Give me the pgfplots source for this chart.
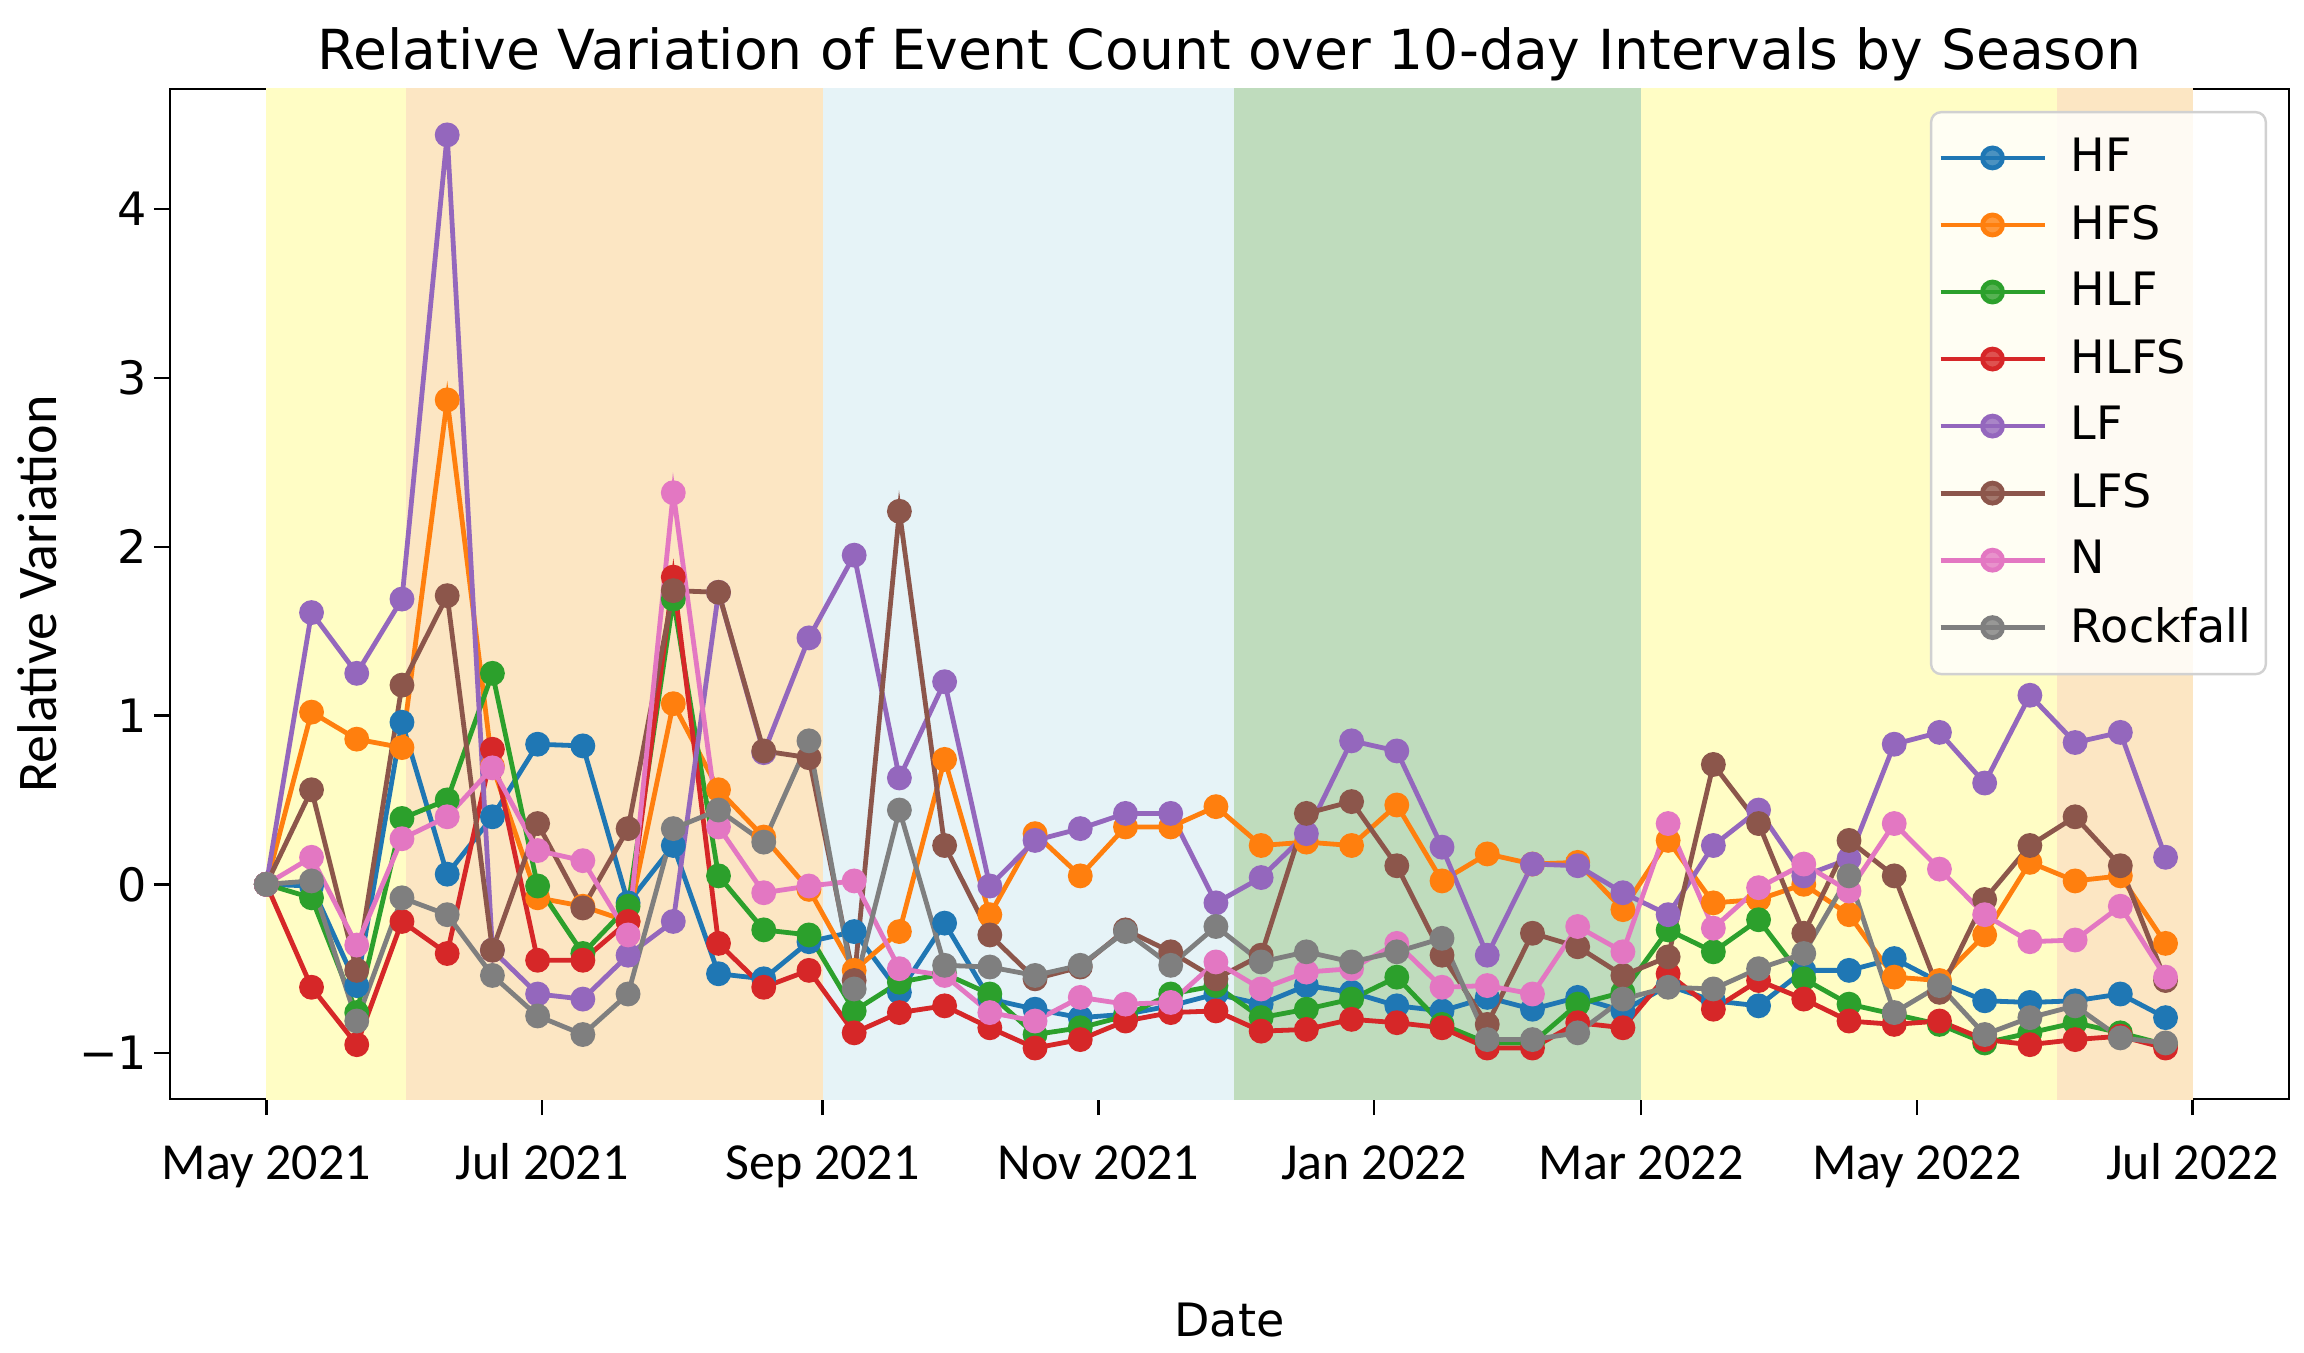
\documentclass[border=0pt]{standalone}
\usepackage{fontspec}
\setmainfont{DejaVu Sans}
\newfontfamily\carlito{Carlito}
\usepackage{pgfplots}
\usepackage{pgfplotstable}
\pgfplotsset{compat=1.18}

\definecolor{tabblue}{HTML}{1F77B4}
\definecolor{taborange}{HTML}{FF7F0E}
\definecolor{tabgreen}{HTML}{2CA02C}
\definecolor{tabred}{HTML}{D62728}
\definecolor{tabpurple}{HTML}{9467BD}
\definecolor{tabbrown}{HTML}{8C564B}
\definecolor{tabpink}{HTML}{E377C2}
\definecolor{tabgray}{HTML}{7F7F7F}
\definecolor{spring}{HTML}{FFFDC5}
\definecolor{summer}{HTML}{FCE6C3}
\definecolor{autumn}{HTML}{E6F3F7}
\definecolor{winter}{HTML}{BFDCBD}

% relative variation per 10-day interval, day 0 = 1 May 2021
\pgfplotstableread{
day   HF     HFS    HLF    HLFS   LF     LFS    N      Rock
0     0      0      0      0      0      0      0      0
10   -0.01   1.02  -0.08  -0.61   1.61   0.56   0.16   0.02
20   -0.60   0.86  -0.76  -0.95   1.25  -0.51  -0.36  -0.81
30    0.96   0.81   0.39  -0.22   1.69   1.18   0.27  -0.08
40    0.06   2.87   0.50  -0.41   4.44   1.71   0.40  -0.18
50    0.40   0.70   1.25   0.80  -0.39  -0.39   0.69  -0.54
60    0.83  -0.08  -0.01  -0.45  -0.65   0.36   0.20  -0.78
70    0.82  -0.13  -0.41  -0.45  -0.68  -0.14   0.14  -0.89
80   -0.11  -0.22  -0.13  -0.22  -0.42   0.33  -0.30  -0.65
90    0.23   1.07   1.69   1.82  -0.22   1.74   2.32   0.33
100  -0.53   0.56   0.05  -0.35   1.73   1.73   0.34   0.44
110  -0.56   0.28  -0.27  -0.61   0.78   0.79  -0.05   0.25
120  -0.34  -0.03  -0.30  -0.51   1.46   0.75  -0.01   0.85
130  -0.28  -0.51  -0.75  -0.88   1.95  -0.57   0.02  -0.62
140  -0.64  -0.28  -0.58  -0.76   0.63   2.21  -0.50   0.44
150  -0.23   0.74  -0.53  -0.72   1.20   0.23  -0.54  -0.48
160  -0.68  -0.18  -0.65  -0.85  -0.01  -0.30  -0.76  -0.49
170  -0.74   0.30  -0.89  -0.97   0.26  -0.56  -0.81  -0.54
180  -0.79   0.05  -0.85  -0.92   0.33  -0.49  -0.67  -0.48
190  -0.77   0.34  -0.78  -0.81   0.42  -0.27  -0.71  -0.28
200  -0.72   0.34  -0.65  -0.76   0.42  -0.40  -0.70  -0.48
210  -0.65   0.46  -0.60  -0.75  -0.11  -0.56  -0.46  -0.25
220  -0.71   0.23  -0.79  -0.87   0.04  -0.42  -0.62  -0.46
230  -0.60   0.25  -0.74  -0.86   0.30   0.42  -0.52  -0.40
240  -0.64   0.23  -0.68  -0.80   0.85   0.49  -0.50  -0.46
250  -0.72   0.47  -0.55  -0.82   0.79   0.11  -0.35  -0.40
260  -0.75   0.02  -0.83  -0.85   0.22  -0.42  -0.61  -0.32
270  -0.67   0.18  -0.94  -0.97  -0.42  -0.83  -0.60  -0.92
280  -0.74   0.12  -0.94  -0.97   0.12  -0.29  -0.65  -0.92
290  -0.67   0.13  -0.71  -0.82   0.11  -0.37  -0.25  -0.88
300  -0.75  -0.15  -0.64  -0.85  -0.05  -0.54  -0.40  -0.68
310  -0.60   0.26  -0.27  -0.53  -0.18  -0.43   0.36  -0.61
320  -0.69  -0.11  -0.40  -0.74   0.23   0.71  -0.26  -0.62
330  -0.72  -0.09  -0.21  -0.57   0.44   0.36  -0.02  -0.50
340  -0.51   0.00  -0.56  -0.68   0.05  -0.29   0.12  -0.41
350  -0.51  -0.18  -0.71  -0.81   0.15   0.26  -0.04   0.05
360  -0.44  -0.55  -0.77  -0.83   0.83   0.05   0.36  -0.76
370  -0.58  -0.57  -0.83  -0.81   0.90  -0.64   0.09  -0.60
380  -0.69  -0.30  -0.94  -0.92   0.60  -0.09  -0.18  -0.89
390  -0.70   0.13  -0.88  -0.95   1.12   0.23  -0.34  -0.79
400  -0.69   0.02  -0.82  -0.92   0.84   0.40  -0.33  -0.72
410  -0.65   0.05  -0.88  -0.90   0.90   0.11  -0.13  -0.91
420  -0.79  -0.35  -0.95  -0.97   0.16  -0.57  -0.55  -0.94
}\events

\begin{document}
\begin{tikzpicture}
\begin{axis}[
  name=ax, at={(0,0)}, anchor=south west,
  scale only axis, width=529.75pt, height=252.5pt,
  xmin=-21.3, xmax=447.3, ymin=-1.272, ymax=4.712,
  axis line style={black, line width=0.6pt},
  tick align=outside, tick pos=left, major tick length=4pt,
  tick style={black, line width=0.6pt},
  xtick={0,61,123,184,245,304,365,426},
  xticklabels={May 2021,Jul 2021,Sep 2021,Nov 2021,Jan 2022,Mar 2022,May 2022,Jul 2022},
  xticklabel style={font=\carlito\fontsize{13}{15.6}\selectfont, anchor=base, yshift=-16.2pt},
  ytick={-1,0,1,2,3,4},
  yticklabels={−1,0,1,2,3,4},
  yticklabel style={font=\fontsize{11.5}{13.8}\selectfont, inner xsep=1.5pt},
  title={Relative Variation of Event Count over 10-day Intervals by Season},
  every axis title shift=0pt,
  title style={at={(axis description cs:0.5,1.0192)}, anchor=base, font=\fontsize{13.8}{16.5}\selectfont},
  xlabel={Date},
  xlabel style={at={(axis description cs:0.5,-0.2356)}, anchor=base, font=\fontsize{11.5}{13.8}\selectfont},
  ylabel={Relative Variation},
  ylabel style={at={(axis description cs:-0.06286,0.5)}, anchor=center, font=\carlito\fontsize{14}{16.8}\selectfont},
  every axis plot/.append style={line width=1.2pt, mark=*, mark size=2.5pt, mark options={solid}},
  legend image code/.code={\draw[mark repeat=2,mark phase=2] plot coordinates {(0pt,0pt)(13pt,0pt)(26pt,0pt)};},
  legend cell align=left,
  legend style={at={(0.98962,0.97822)}, anchor=north east,
    font=\fontsize{11.5}{13.8}\selectfont,
    fill=white, fill opacity=0.8, text opacity=1, draw opacity=1,
    draw=black!18, line width=0.6pt, rounded corners=2.5pt,
    inner xsep=1.75pt, inner ysep=4.5pt, row sep=2.8pt, column sep=4pt,
    nodes={inner sep=2pt}},
]
% seasons
\addplot[draw=none, fill=spring, mark=none, forget plot] coordinates {(0,-2)(31,-2)(31,6)(0,6)} -- cycle;
\addplot[draw=none, fill=summer, mark=none, forget plot] coordinates {(31,-2)(123,-2)(123,6)(31,6)} -- cycle;
\addplot[draw=none, fill=autumn, mark=none, forget plot] coordinates {(123,-2)(214,-2)(214,6)(123,6)} -- cycle;
\addplot[draw=none, fill=winter, mark=none, forget plot] coordinates {(214,-2)(304,-2)(304,6)(214,6)} -- cycle;
\addplot[draw=none, fill=spring, mark=none, forget plot] coordinates {(304,-2)(396,-2)(396,6)(304,6)} -- cycle;
\addplot[draw=none, fill=summer, mark=none, forget plot] coordinates {(396,-2)(426,-2)(426,6)(396,6)} -- cycle;

\addplot[tabblue]   table[x=day, y=HF]   {\events}; \addlegendentry{HF}
\addplot[taborange] table[x=day, y=HFS]  {\events}; \addlegendentry{HFS}
\addplot[tabgreen]  table[x=day, y=HLF]  {\events}; \addlegendentry{HLF}
\addplot[tabred]    table[x=day, y=HLFS] {\events}; \addlegendentry{HLFS}
\addplot[tabpurple] table[x=day, y=LF]   {\events}; \addlegendentry{LF}
\addplot[tabbrown]  table[x=day, y=LFS]  {\events}; \addlegendentry{LFS}
\addplot[tabpink]   table[x=day, y=N]    {\events}; \addlegendentry{N}
\addplot[tabgray]   table[x=day, y=Rock] {\events}; \addlegendentry{Rockfall}
\end{axis}
\path ([xshift=-42.5pt,yshift=-63.25pt]ax.south west) rectangle ++(576pt,338pt);
\end{tikzpicture}
\end{document}
